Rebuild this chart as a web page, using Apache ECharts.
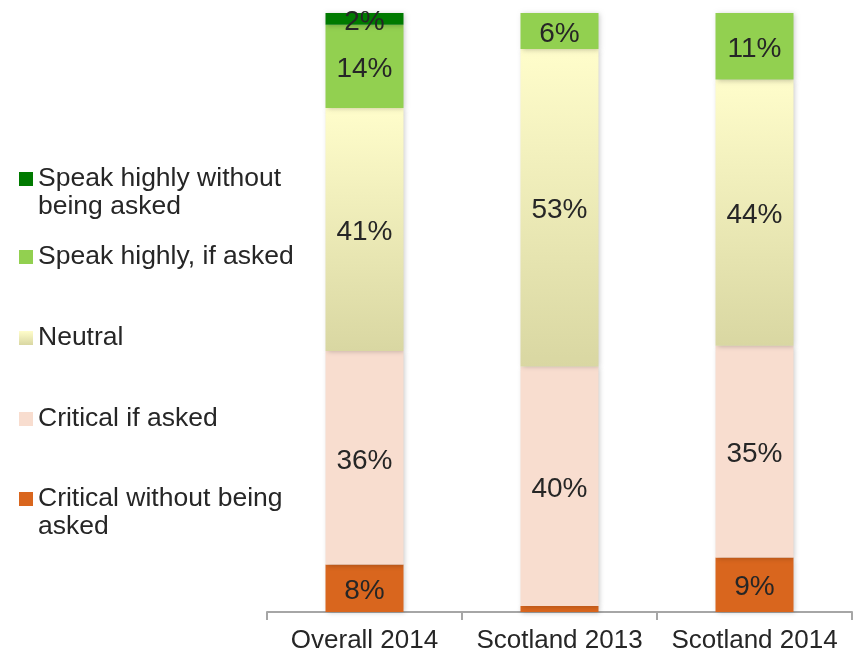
<!DOCTYPE html>
<html>
<head>
<meta charset="utf-8">
<script src="https://cdn.jsdelivr.net/npm/echarts@6/dist/echarts.min.js"></script>
<style>
  html, body { margin: 0; padding: 0; background: #ffffff; }
  #chart { width: 854px; height: 656px; }
</style>
</head>
<body>
<div id="chart"></div>
<script>
// Survey responses, per cent (bottom to top of each stacked bar)
const categories = ['Overall 2014', 'Scotland 2013', 'Scotland 2014'];
const criticalWithout = [8, 1, 9];
const criticalIfAsked = [36, 40, 35];
const neutral = [41, 53, 44];
const speakIfAsked = [14, 6, 11];
const speakWithout = [2, 0, 0];

const seriesNames = [
  'Critical without being asked',
  'Critical if asked',
  'Neutral',
  'Speak highly, if asked',
  'Speak highly without being asked'
];
const seriesValues = [criticalWithout, criticalIfAsked, neutral, speakIfAsked, speakWithout];

// Each column is drawn as a 100% stack, so shares are taken of the column total
const totals = categories.map((_, i) => seriesValues.reduce((s, arr) => s + arr[i], 0));

const FONT = "'Liberation Sans', Arial, sans-serif";
const TEXT = '#262626';

const neutralFill = new echarts.graphic.LinearGradient(0, 0, 0, 1, [
  { offset: 0, color: '#FFFDCB' },
  { offset: 1, color: '#D9D7A2' }
]);
const colors = ['#D9661E', '#F8DDCF', neutralFill, '#92D050', '#007A00'];

const series = seriesValues.map((vals, s) => ({
  name: seriesNames[s],
  type: 'bar',
  stack: 'total',
  barWidth: 78,
  itemStyle: {
    color: colors[s],
    shadowColor: 'rgba(0,0,0,0.22)',
    shadowBlur: 5,
    shadowOffsetX: 1,
    shadowOffsetY: 1
  },
  label: {
    show: true,
    position: 'inside',
    offset: [0, 3],
    fontFamily: FONT,
    fontSize: 28,
    color: TEXT,
    formatter: p => vals[p.dataIndex] + '%'
  },
  data: vals.map((v, i) => ({
    value: v / totals[i] * 100,
    label: { show: v > 1 }
  }))
}));

// One legend block per entry so the uneven vertical spacing can be kept.
// Two-line entries get a blank leading line so the swatch sits beside the first line.
const legendCentres = [179, 257, 338, 419, 499];
const legendText = {
  'Speak highly without being asked': '\nSpeak highly without\nbeing asked',
  'Critical without being asked': '\nCritical without being\nasked'
};
const LH = 28;
const legendOrder = [4, 3, 2, 1, 0];
const legends = legendOrder.map((s, k) => {
  const twoLine = !!legendText[seriesNames[s]];
  return {
    orient: 'vertical',
    left: 19,
    top: twoLine ? legendCentres[k] - LH * 1.5 : legendCentres[k] - LH / 2,
    padding: 0,
    itemWidth: 14,
    itemHeight: 14,
    itemGap: 0,
    icon: 'rect',
    selectedMode: false,
    data: [seriesNames[s]],
    formatter: n => legendText[n] || n,
    textStyle: {
      fontFamily: FONT,
      fontSize: 26.5,
      color: TEXT,
      lineHeight: LH
    }
  };
});

const chart = echarts.init(document.getElementById('chart'), null, { renderer: 'canvas' });
chart.setOption({
  animation: false,
  backgroundColor: '#ffffff',
  legend: legends,
  grid: { left: 267, right: 2, top: 13, bottom: 44 },
  xAxis: {
    type: 'category',
    data: categories,
    axisLine: { lineStyle: { color: '#A6A6A6', width: 2 } },
    axisTick: { show: true, interval: 0, length: 8, lineStyle: { color: '#A6A6A6', width: 2 } },
    axisLabel: { interval: 0, fontFamily: FONT, fontSize: 26, color: TEXT, margin: 16 }
  },
  yAxis: {
    type: 'value',
    min: 0,
    max: 100,
    show: false,
    splitLine: { show: false }
  },
  series: series
});
</script>
</body>
</html>
